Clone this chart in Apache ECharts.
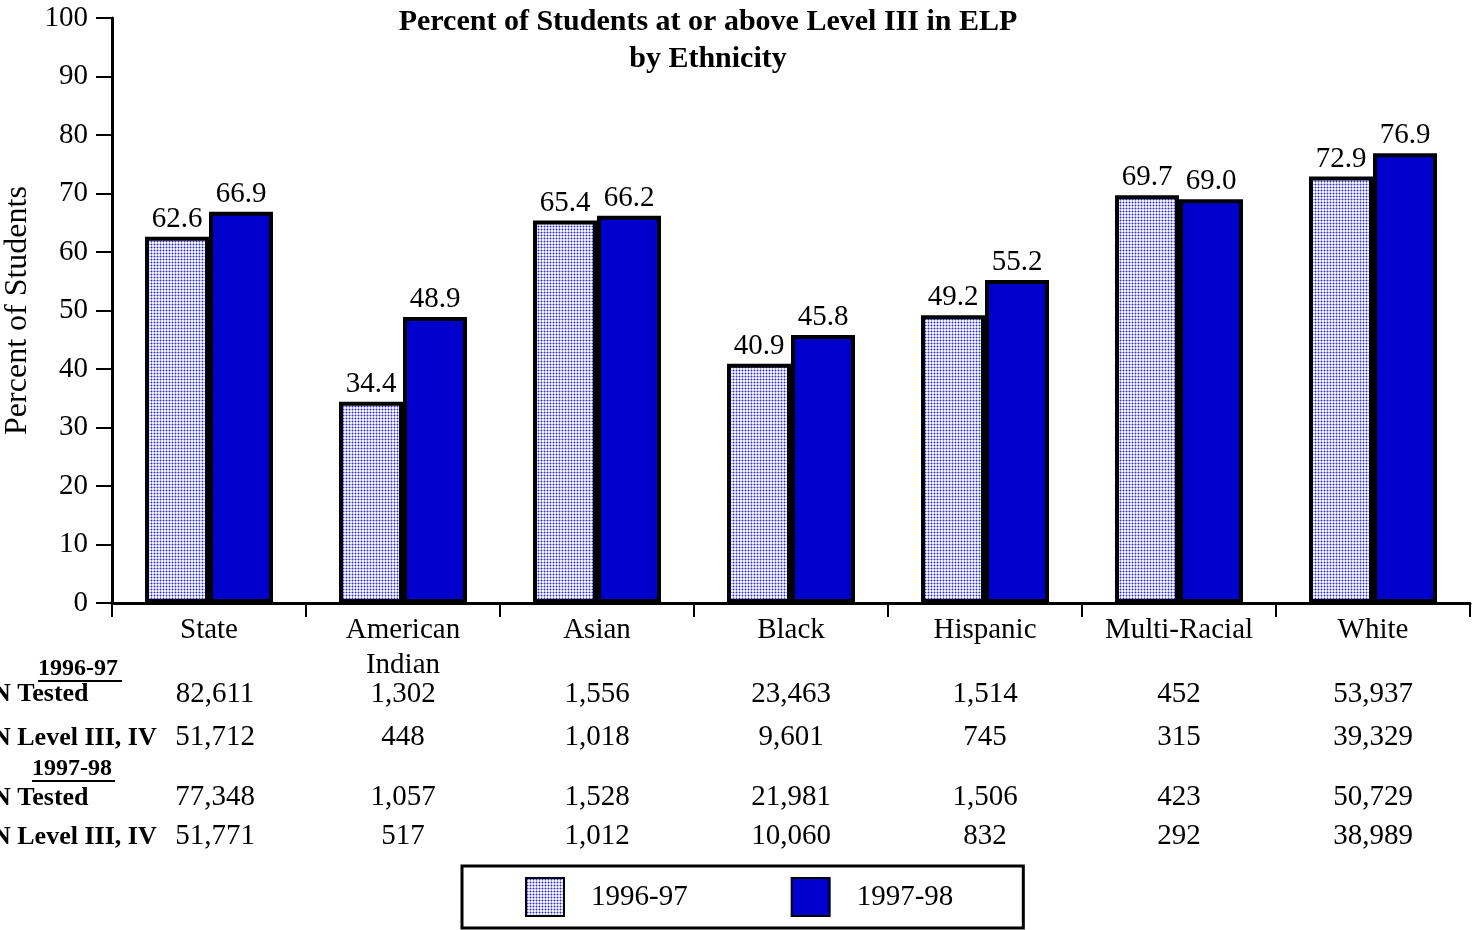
<!DOCTYPE html>
<html>
<head>
<meta charset="utf-8">
<script src="https://cdn.jsdelivr.net/npm/echarts@6/dist/echarts.min.js"></script>
<style>
  html, body { margin: 0; padding: 0; background: #fff; }
  #chart { width: 1476px; height: 930px; }
</style>
</head>
<body>
<div id="chart"></div>
<script>
// chart data
const categories = ['State', 'American\nIndian', 'Asian', 'Black', 'Hispanic', 'Multi-Racial', 'White'];
const pct9697 = [62.6, 34.4, 65.4, 40.9, 49.2, 69.7, 72.9];
const pct9798 = [66.9, 48.9, 66.2, 45.8, 55.2, 69.0, 76.9];
const yTicks = [0, 100, 10];

// table below the chart
const tested9697 = ['82,611', '1,302', '1,556', '23,463', '1,514', '452', '53,937'];
const level9697 = ['51,712', '448', '1,018', '9,601', '745', '315', '39,329'];
const tested9798 = ['77,348', '1,057', '1,528', '21,981', '1,506', '423', '50,729'];
const level9798 = ['51,771', '517', '1,012', '10,060', '832', '292', '38,989'];

const serif = '"Liberation Serif", "Times New Roman", serif';

// dotted fill for the 1996-97 bars
const makePattern = () => {
  const c = document.createElement('canvas');
  c.width = 3;
  c.height = 3;
  const ctx = c.getContext('2d');
  ctx.fillStyle = '#f2f2ff';
  ctx.fillRect(0, 0, 3, 3);
  ctx.fillStyle = '#a4a4ec';
  ctx.fillRect(1, 0, 1, 3);
  ctx.fillRect(0, 1, 3, 1);
  ctx.fillStyle = '#2f2fc4';
  ctx.fillRect(1, 1, 1, 1);
  return c;
};

const chart = echarts.init(document.getElementById('chart'));

const tableAxis = (values, offset) => ({
  type: 'category',
  data: categories,
  position: 'bottom',
  offset: offset,
  axisLine: { show: false },
  axisTick: { show: false },
  axisLabel: {
    margin: 0,
    interval: 0,
    fontFamily: serif,
    fontSize: 29,
    color: '#000',
    formatter: (v, i) => i === 0 ? '{first|' + values[i] + '}' : values[i],
    rich: {
      first: { fontFamily: serif, fontSize: 29, color: '#000', padding: [0, 0, 0, 12] }
    }
  }
});

const rowHeader = (text, x, y, size) => ({
  type: 'text',
  left: x,
  top: y,
  style: { text: text, font: 'bold ' + size + 'px ' + serif, fill: '#000' }
});

const option = {
  animation: false,
  backgroundColor: '#fff',
  title: {
    text: 'Percent of Students at or above Level III in ELP\nby Ethnicity',
    left: 708,
    top: 4,
    padding: 0,
    textAlign: 'center',
    textStyle: {
      fontFamily: serif,
      fontWeight: 'bold',
      fontSize: 30,
      lineHeight: 37,
      color: '#000'
    }
  },
  legend: {
    data: ['1996-97', '1997-98'],
    left: 462,
    top: 866,
    padding: [11, 70, 11, 63],
    borderColor: '#000',
    borderWidth: 3,
    itemWidth: 38,
    itemHeight: 38,
    itemGap: 103,
    icon: 'rect',
    textStyle: {
      fontFamily: serif,
      fontSize: 29,
      color: '#000',
      padding: [0, 0, 0, 22]
    }
  },
  grid: {
    left: 112,
    right: 6,
    top: 18,
    bottom: 327,
    containLabel: false,
    outerBoundsMode: 'none'
  },
  xAxis: [
    {
      type: 'category',
      data: categories,
      axisLine: { lineStyle: { color: '#000', width: 3 } },
      axisTick: { show: true, alignWithLabel: false, length: 14, lineStyle: { color: '#000', width: 2 } },
      axisLabel: {
        margin: 10,
        interval: 0,
        fontFamily: serif,
        fontSize: 29,
        lineHeight: 35,
        color: '#000'
      }
    },
    tableAxis(tested9697, 77),
    tableAxis(level9697, 120),
    tableAxis(tested9798, 180),
    tableAxis(level9798, 219)
  ],
  yAxis: {
    type: 'value',
    min: yTicks[0],
    max: yTicks[1],
    interval: yTicks[2],
    name: 'Percent of Students',
    nameLocation: 'middle',
    nameGap: 74,
    nameTextStyle: { fontFamily: serif, fontSize: 32, color: '#000' },
    splitLine: { show: false },
    axisLine: { show: true, lineStyle: { color: '#000', width: 3 } },
    axisTick: { show: true, length: 16, lineStyle: { color: '#000', width: 2 } },
    axisLabel: { margin: 24, fontFamily: serif, fontSize: 29, color: '#000' }
  },
  series: [
    {
      name: '1996-97',
      type: 'bar',
      data: pct9697,
      barWidth: 64,
      barGap: '0%',
      itemStyle: {
        color: { image: makePattern(), repeat: 'repeat' },
        borderColor: '#000',
        borderWidth: 4
      },
      label: {
        show: true,
        position: 'top',
        distance: 3,
        fontFamily: serif,
        fontSize: 29,
        color: '#000',
        formatter: p => p.value.toFixed(1)
      }
    },
    {
      name: '1997-98',
      type: 'bar',
      data: pct9798,
      barWidth: 64,
      barGap: '0%',
      itemStyle: {
        color: '#0000cc',
        borderColor: '#000',
        borderWidth: 4
      },
      label: {
        show: true,
        position: 'top',
        distance: 3,
        fontFamily: serif,
        fontSize: 29,
        color: '#000',
        formatter: p => p.value.toFixed(1)
      }
    }
  ],
  graphic: [
    rowHeader('1996-97', 38, 657, 24),
    { type: 'line', shape: { x1: 38, y1: 681, x2: 122, y2: 681 }, style: { stroke: '#000', lineWidth: 2 } },
    rowHeader('N Tested', -8, 681, 26),
    rowHeader('N Level III, IV', -8, 725, 26),
    rowHeader('1997-98', 32, 757, 24),
    { type: 'line', shape: { x1: 32, y1: 781, x2: 115, y2: 781 }, style: { stroke: '#000', lineWidth: 2 } },
    rowHeader('N Tested', -8, 785, 26),
    rowHeader('N Level III, IV', -8, 824, 26)
  ]
};

chart.setOption(option);
</script>
</body>
</html>
